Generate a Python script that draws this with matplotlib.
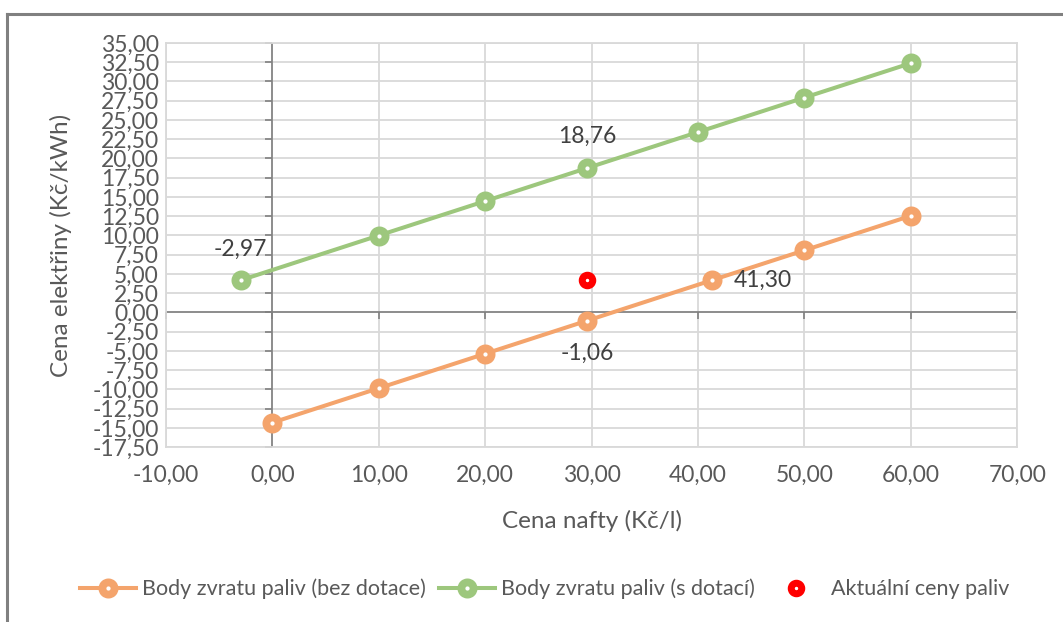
import matplotlib.pyplot as plt
from matplotlib.lines import Line2D
from matplotlib.ticker import FuncFormatter, MultipleLocator

plt.rcParams['font.family'] = ['Lato', 'DejaVu Sans']

# Body zvratu paliv (bez dotace)
nafta_bez = [0, 10, 20, 29.6, 41.3, 50, 60]
elektrina_bez = [-14.31, -9.84, -5.36, -1.06, 4.18, 8.07, 12.55]

# Body zvratu paliv (s dotaci)
nafta_s = [-2.97, 10, 20, 29.6, 40, 50, 60]
elektrina_s = [4.18, 9.99, 14.46, 18.76, 23.42, 27.90, 32.37]

# Aktualni ceny paliv
nafta_akt = [29.6]
elektrina_akt = [4.18]

labels = ['Body zvratu paliv (bez dotace)', 'Body zvratu paliv (s dotací)', 'Aktuální ceny paliv']

orange = '#F4A46C'
green = '#9DC77D'
grid_c = '#D9D9D9'
axis_c = '#808080'
text_c = '#595959'

fmt = FuncFormatter(lambda v, p: f"{v:.2f}".replace('.', ','))

fig = plt.figure(figsize=(10.63, 6.22), dpi=100)
ax = fig.add_axes([0.156, 0.281, 0.801, 0.650])

ax.set_xlim(-10, 70)
ax.set_ylim(-17.5, 35)
ax.xaxis.set_major_locator(MultipleLocator(10))
ax.yaxis.set_major_locator(MultipleLocator(2.5))
ax.xaxis.set_major_formatter(fmt)
ax.yaxis.set_major_formatter(fmt)
ax.grid(True, color=grid_c, linewidth=1.3, zorder=0)
ax.set_axisbelow(True)
for s in ax.spines.values():
    s.set_color(grid_c)
    s.set_linewidth(1.3)
ax.tick_params(length=0, labelsize=16.5, labelcolor=text_c, pad=5)
ax.tick_params(axis='x', pad=13)

# axis lines crossing at zero
ax.axhline(0, color=axis_c, linewidth=1.2, zorder=1)
ax.axvline(0, color=axis_c, linewidth=1.2, zorder=1)
xt = [v for v in ax.get_xticks() if -10 <= v <= 70]
yt = [v for v in ax.get_yticks() if -17.5 <= v <= 35]
ax.plot(xt, [0] * len(xt), linestyle='none', marker=3, markersize=5,
        color=axis_c, markeredgewidth=1.2, clip_on=False, zorder=1)
ax.plot([0] * len(yt), yt, linestyle='none', marker=0, markersize=5,
        color=axis_c, markeredgewidth=1.2, clip_on=False, zorder=1)

ax.plot(nafta_bez, elektrina_bez, color=orange, linewidth=2.9, marker='o',
        markersize=8.8, markeredgewidth=5.6, markerfacecolor='white',
        markeredgecolor=orange, label=labels[0], zorder=3)
ax.plot(nafta_s, elektrina_s, color=green, linewidth=2.9, marker='o',
        markersize=8.8, markeredgewidth=5.6, markerfacecolor='white',
        markeredgecolor=green, label=labels[1], zorder=3)
ax.plot(nafta_akt, elektrina_akt, linestyle='none', marker='o',
        markersize=7.6, markeredgewidth=5, markerfacecolor='white',
        markeredgecolor='#FF0000', label=labels[2], zorder=4)

lab_c = '#404040'
ax.annotate(f"{nafta_s[0]:.2f}".replace('.', ','), (nafta_s[0], elektrina_s[0]),
            xytext=(0, 31), textcoords='offset pixels', ha='center', va='center',
            fontsize=16.5, color=lab_c)
ax.annotate(f"{elektrina_s[3]:.2f}".replace('.', ','), (nafta_s[3], elektrina_s[3]),
            xytext=(0, 32), textcoords='offset pixels', ha='center', va='center',
            fontsize=16.5, color=lab_c)
ax.annotate(f"{nafta_bez[4]:.2f}".replace('.', ','), (nafta_bez[4], elektrina_bez[4]),
            xytext=(22, 0), textcoords='offset pixels', ha='left', va='center',
            fontsize=16.5, color=lab_c)
ax.annotate(f"{elektrina_bez[3]:.2f}".replace('.', ','), (nafta_bez[3], elektrina_bez[3]),
            xytext=(0, -33), textcoords='offset pixels', ha='center', va='center',
            fontsize=16.5, color=lab_c)

ax.set_xlabel('Cena nafty (Kč/l)', fontsize=17.5, color=text_c, labelpad=17)
ax.set_ylabel('Cena elektřiny (Kč/kWh)', fontsize=17.5, color=text_c, labelpad=15)

leg = fig.legend(loc='center', bbox_to_anchor=(0.512, 1 - 589 / 622), ncol=3,
                 frameon=False, fontsize=15.5, handlelength=2.6, handletextpad=0.3,
                 columnspacing=0.6, labelcolor=text_c)

# outer chart frame
fig.add_artist(Line2D([7 / 1063, 7 / 1063], [0, 1 - 14 / 622], color=axis_c,
                      linewidth=2.2, transform=fig.transFigure))
fig.add_artist(Line2D([7 / 1063, 1], [1 - 14 / 622, 1 - 14 / 622], color=axis_c,
                      linewidth=2.2, transform=fig.transFigure))

fig.savefig('out.png', dpi=100)
